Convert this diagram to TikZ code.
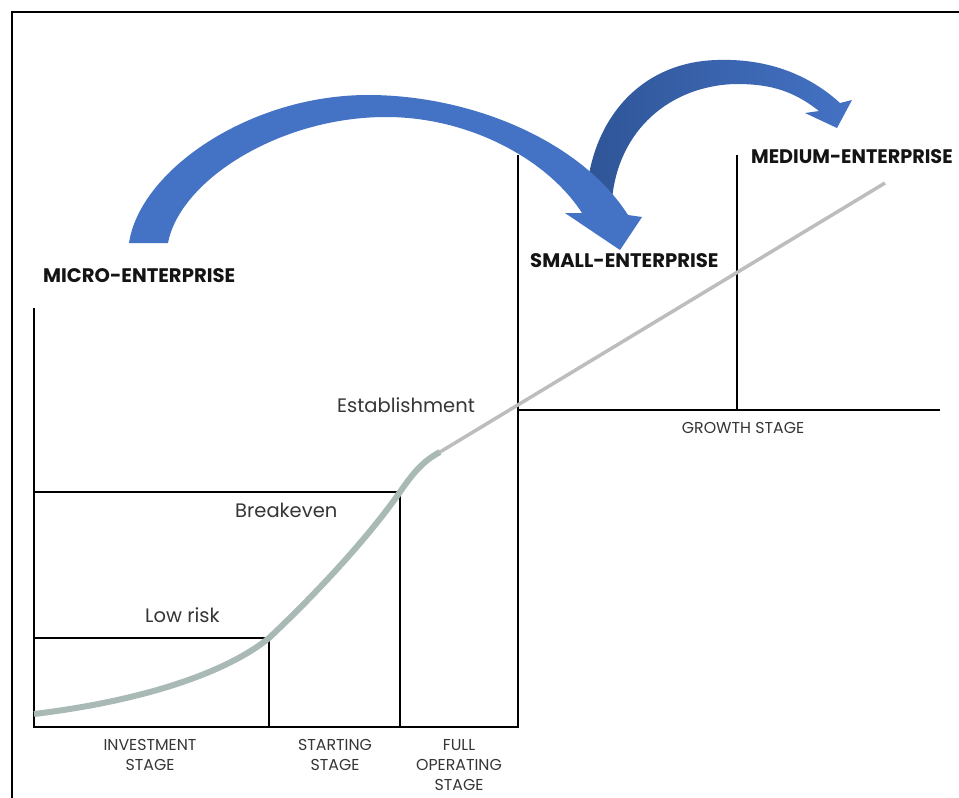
\documentclass[tikz,border=0pt]{standalone}
\usepackage{fontspec}
\setmainfont{Poppins}
\definecolor{arrowblue}{HTML}{4472C4}
\definecolor{arrowdark}{HTML}{2F5597}
\definecolor{curvegray}{HTML}{A9B9B5}
\definecolor{linegray}{HTML}{BDBDBD}
\definecolor{labelgray}{HTML}{363636}
\begin{document}
\begin{tikzpicture}[x=1pt,y=-1pt,
  axis/.style={line width=2pt, black},
  frameline/.style={line width=2.6pt, black},
  entlabel/.style={font=\fontsize{19.6}{24}\selectfont\bfseries, text=black!92, inner sep=0pt, anchor=base west},
  milestone/.style={font=\fontsize{19.5}{24}\selectfont, text=labelgray, inner sep=0pt, anchor=base west},
  stagelabel/.style={font=\fontsize{15.8}{20}\selectfont, text=labelgray, inner sep=0pt, align=center, anchor=north},
]
\useasboundingbox (0,0) rectangle (959,798);
\fill[white] (0,0) rectangle (959,798);
% frame
\draw[frameline] (12,798) -- (12,12) -- (959,12);
% key points
\coordinate (axTop) at (34,308);
\coordinate (origin) at (34,727);
\coordinate (smBot) at (518,727);
\coordinate (smTop) at (518,155);
\coordinate (lrTop) at (34,638);
\coordinate (lrCorner) at (269,638);
\coordinate (lrFoot) at (269,727);
\coordinate (beTop) at (34,492);
\coordinate (beCorner) at (400,492);
\coordinate (beFoot) at (400,727);
\coordinate (grL) at (518,410);
\coordinate (grR) at (940,410);
\coordinate (mdTop) at (737,155);
\coordinate (mdBot) at (737,410);
\coordinate (cStart) at (34,714);
\coordinate (cBend) at (440,452);
\coordinate (cEnd) at (885,183);
% black structure
\draw[axis] (axTop) -- (origin) -- (smBot) -- (smTop);
\draw[axis] (lrTop) -- (lrCorner) -- (lrFoot);
\draw[axis] (beTop) -- (beCorner) -- (beFoot);
\draw[axis] (grL) -- (grR);
\draw[axis] (mdTop) -- (mdBot);
% growth curve
\draw[linegray, line width=3.5pt] (cBend) -- (cEnd);
\draw[curvegray, line width=6pt] (cStart) .. controls (150,700) and (230,670) .. (lrCorner)
  .. controls (320,590) and (370,535) .. (beCorner)
  .. controls (415,470) and (425,460) .. (cBend);
% arrow small -> medium (behind)
\shade[left color=arrowdark, right color=arrowblue]
  (586,200) .. controls (590,120) and (640,62) .. (717,60)
  .. controls (775,58) and (815,80) .. (840,103)
  -- (852,100) -- (837,128) -- (805,113) -- (819,111)
  .. controls (790,88) and (765,84) .. (735,84)
  .. controls (670,86) and (618,130) .. (612,200) -- cycle;
% arrow micro -> small
\fill[arrowblue]
  (129,243) .. controls (140,170) and (250,95) .. (368,95)
  .. controls (470,95) and (580,140) .. (628,215)
  -- (642,217) -- (620,250) -- (565,213) -- (582,213)
  .. controls (548,160) and (470,117) .. (386,117)
  .. controls (280,117) and (180,180) .. (168,243) -- cycle;
% labels
\node[entlabel] (micro) at (43,282) {MICRO-ENTERPRISE};
\node[entlabel] (small) at (530,267) {SMALL-ENTERPRISE};
\node[entlabel, xscale=0.98, transform shape] (medium) at (751,163) {MEDIUM-ENTERPRISE};
\node[milestone] (estab) at (337,412) {Establishment};
\node[milestone] (breakeven) at (235,517) {Breakeven};
\node[milestone] (lowrisk) at (145,622) {Low risk};
\node[stagelabel] (invest) at (150,739) {INVESTMENT\\STAGE};
\node[stagelabel] (start) at (335,739) {STARTING\\STAGE};
\node[stagelabel] (full) at (459,739) {FULL\\OPERATING\\STAGE};
\node[stagelabel] (growth) at (743,422) {GROWTH STAGE};
\end{tikzpicture}
\end{document}
